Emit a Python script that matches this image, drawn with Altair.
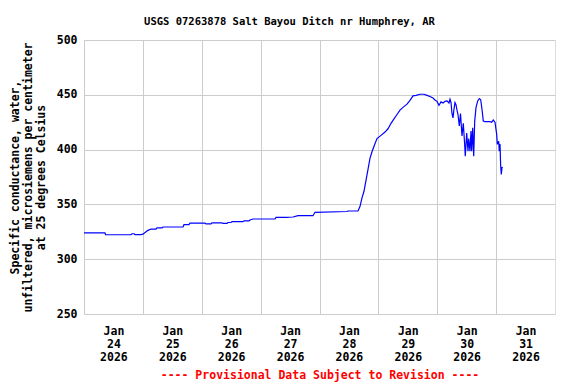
import altair as alt
import pandas as pd

# hours after 2026-01-24 00:00 (local) and specific conductance readings
hours = [0, 8.56, 8.77, 19.16, 19.57, 20.38, 20.79, 23.24, 24.05, 25.27, 26.09, 27.31,
         29.35, 29.76, 31.80, 32.20, 40.36, 40.76, 42.80, 43.21, 49.32, 49.73, 51.77,
         52.18, 56.25, 56.66, 58.29, 58.70, 59.92, 60.33, 64.81, 65.22, 67.26, 67.67,
         68.89, 77.86, 78.27, 82.34, 85.20, 87.23, 93.35, 94.16, 107.21, 107.62, 111.69,
         112.50, 113.32, 114.14, 114.95, 115.77, 116.58, 117.40, 118.22, 119.44, 121.07,
         122.70, 123.92, 125.15, 126.37, 127.59, 128.81, 130.04, 131.67, 132.89, 134.11,
         135.34, 136.97, 138.60, 139.82, 141.04, 142.27, 143.08, 143.90, 144.71, 145.53,
         146.34, 147.16, 147.97, 148.79, 149.20, 149.60, 150.01, 150.42, 150.83, 151.23,
         151.64, 152.05, 152.46, 152.99, 153.48, 154.09, 154.62, 155.19, 155.43, 156.00,
         156.53, 156.82, 157.35, 157.76, 158.04, 158.45, 158.86, 159.27, 159.79, 160.49,
         161.14, 161.71, 162.24, 162.77, 163.46, 165.50, 166.19, 166.84, 167.54, 168.23,
         168.48, 169.05, 169.29, 169.58, 169.86, 170.11, 170.39, 170.68]
conductance = [324, 324, 322.3, 322.3, 323.2, 323.2, 322.5, 322.5, 322.8, 325, 326.3, 327.5,
               327.5, 328.5, 328.5, 329.4, 329.4, 331.5, 331.5, 333, 333, 332.2, 332.2,
               333.2, 333.2, 332.6, 332.6, 333.5, 333.6, 334.3, 334.3, 335, 335, 335.8,
               336.7, 336.7, 338.2, 338.2, 338.5, 339.7, 339.7, 342.8, 343.5, 344, 344,
               348, 356, 362, 372, 382, 392, 398, 403, 410, 413,
               416, 419, 424, 428, 432, 436, 438.5, 441.5, 445, 449,
               449.5, 450.5, 450.5, 449.5, 448.4, 447, 445.3, 444, 440.5, 443.5,
               442.5, 444, 444.5, 442.5, 446, 443, 433, 429, 437, 443,
               441, 436, 432, 421.5, 433, 412.4, 424, 404, 394, 415,
               398.6, 410, 398.6, 417, 398.6, 420, 394, 426, 438.3, 444.4,
               446.6, 445.5, 436.8, 426.1, 425.5, 425.5, 425, 427, 425, 413.9,
               404.8, 407.5, 398.6, 405, 384.9, 377.3, 383.5, 384]

days = [24, 25, 26, 27, 28, 29, 30, 31]
title_text = "USGS 07263878 Salt Bayou Ditch nr Humphrey, AR"
y_title = ["Specific conductance, water,",
           "unfiltered, microsiemens per centimeter",
           "at 25 degrees Celsius"]
footer = "---- Provisional Data Subject to Revision ----"

start = pd.Timestamp("2026-01-24 00:00")
times = start + pd.to_timedelta(hours, unit="h")
df = pd.DataFrame({"time": times.strftime("%Y-%m-%dT%H:%M:%S"), "value": conductance})

tick_values = []
for d in days:
    tick_values.append(alt.DateTime(year=2026, month=1, date=d, hours=0))
    tick_values.append(alt.DateTime(year=2026, month=1, date=d, hours=12))

FONT = "DejaVu Sans Mono"

chart = alt.Chart(df).mark_line(color="#0000FF", strokeWidth=1.2, interpolate="linear").encode(
    x=alt.X("time:T",
            scale=alt.Scale(domain=[alt.DateTime(year=2026, month=1, date=24, hours=0),
                                    alt.DateTime(year=2026, month=2, date=1, hours=0)]),
            axis=alt.Axis(values=tick_values,
                          labelExpr="hours(datum.value) == 12 ? [timeFormat(datum.value, '%b'), timeFormat(datum.value, '%d'), timeFormat(datum.value, '%Y')] : ''",
                          gridOpacity={"condition": {"test": "hours(datum.value) == 12", "value": 0}, "value": 1},
                          grid=True, gridColor="#cccccc", gridWidth=1,
                          ticks=False, domain=False,
                          labelOverlap=False, labelFlush=False, labelBound=False,
                          labelFont=FONT, labelFontWeight="bold", labelFontSize=11.5,
                          labelColor="black", labelPadding=11, labelLineHeight=13,
                          title=footer, titleColor="#FF0000", titleFont=FONT,
                          titleFontWeight="bold", titleFontSize=11.5, titlePadding=7)),
    y=alt.Y("value:Q",
            scale=alt.Scale(domain=[250, 500], nice=False, zero=False),
            axis=alt.Axis(values=[250, 300, 350, 400, 450, 500],
                          grid=True, gridColor="#cccccc", gridWidth=1,
                          ticks=False, domain=False,
                          labelFont=FONT, labelFontWeight="bold", labelFontSize=11.5,
                          labelColor="black", labelPadding=7,
                          title=y_title, titleFont=FONT, titleFontWeight="bold",
                          titleFontSize=11.5, titleColor="black", titleLineHeight=13,
                          titlePadding=10)),
).properties(
    width=471, height=274,
    title=alt.TitleParams(title_text, font=FONT, fontSize=10.5, fontWeight="bold",
                          color="black", anchor="middle", dx=-30, offset=7),
    padding={"left": 76, "top": 32, "right": 13, "bottom": 70},
    autosize=alt.AutoSizeParams(type="none"),
).configure_view(stroke="black", strokeWidth=1).configure(background="white")

chart.save("out.html", embed_options={"renderer": "svg", "actions": False})
